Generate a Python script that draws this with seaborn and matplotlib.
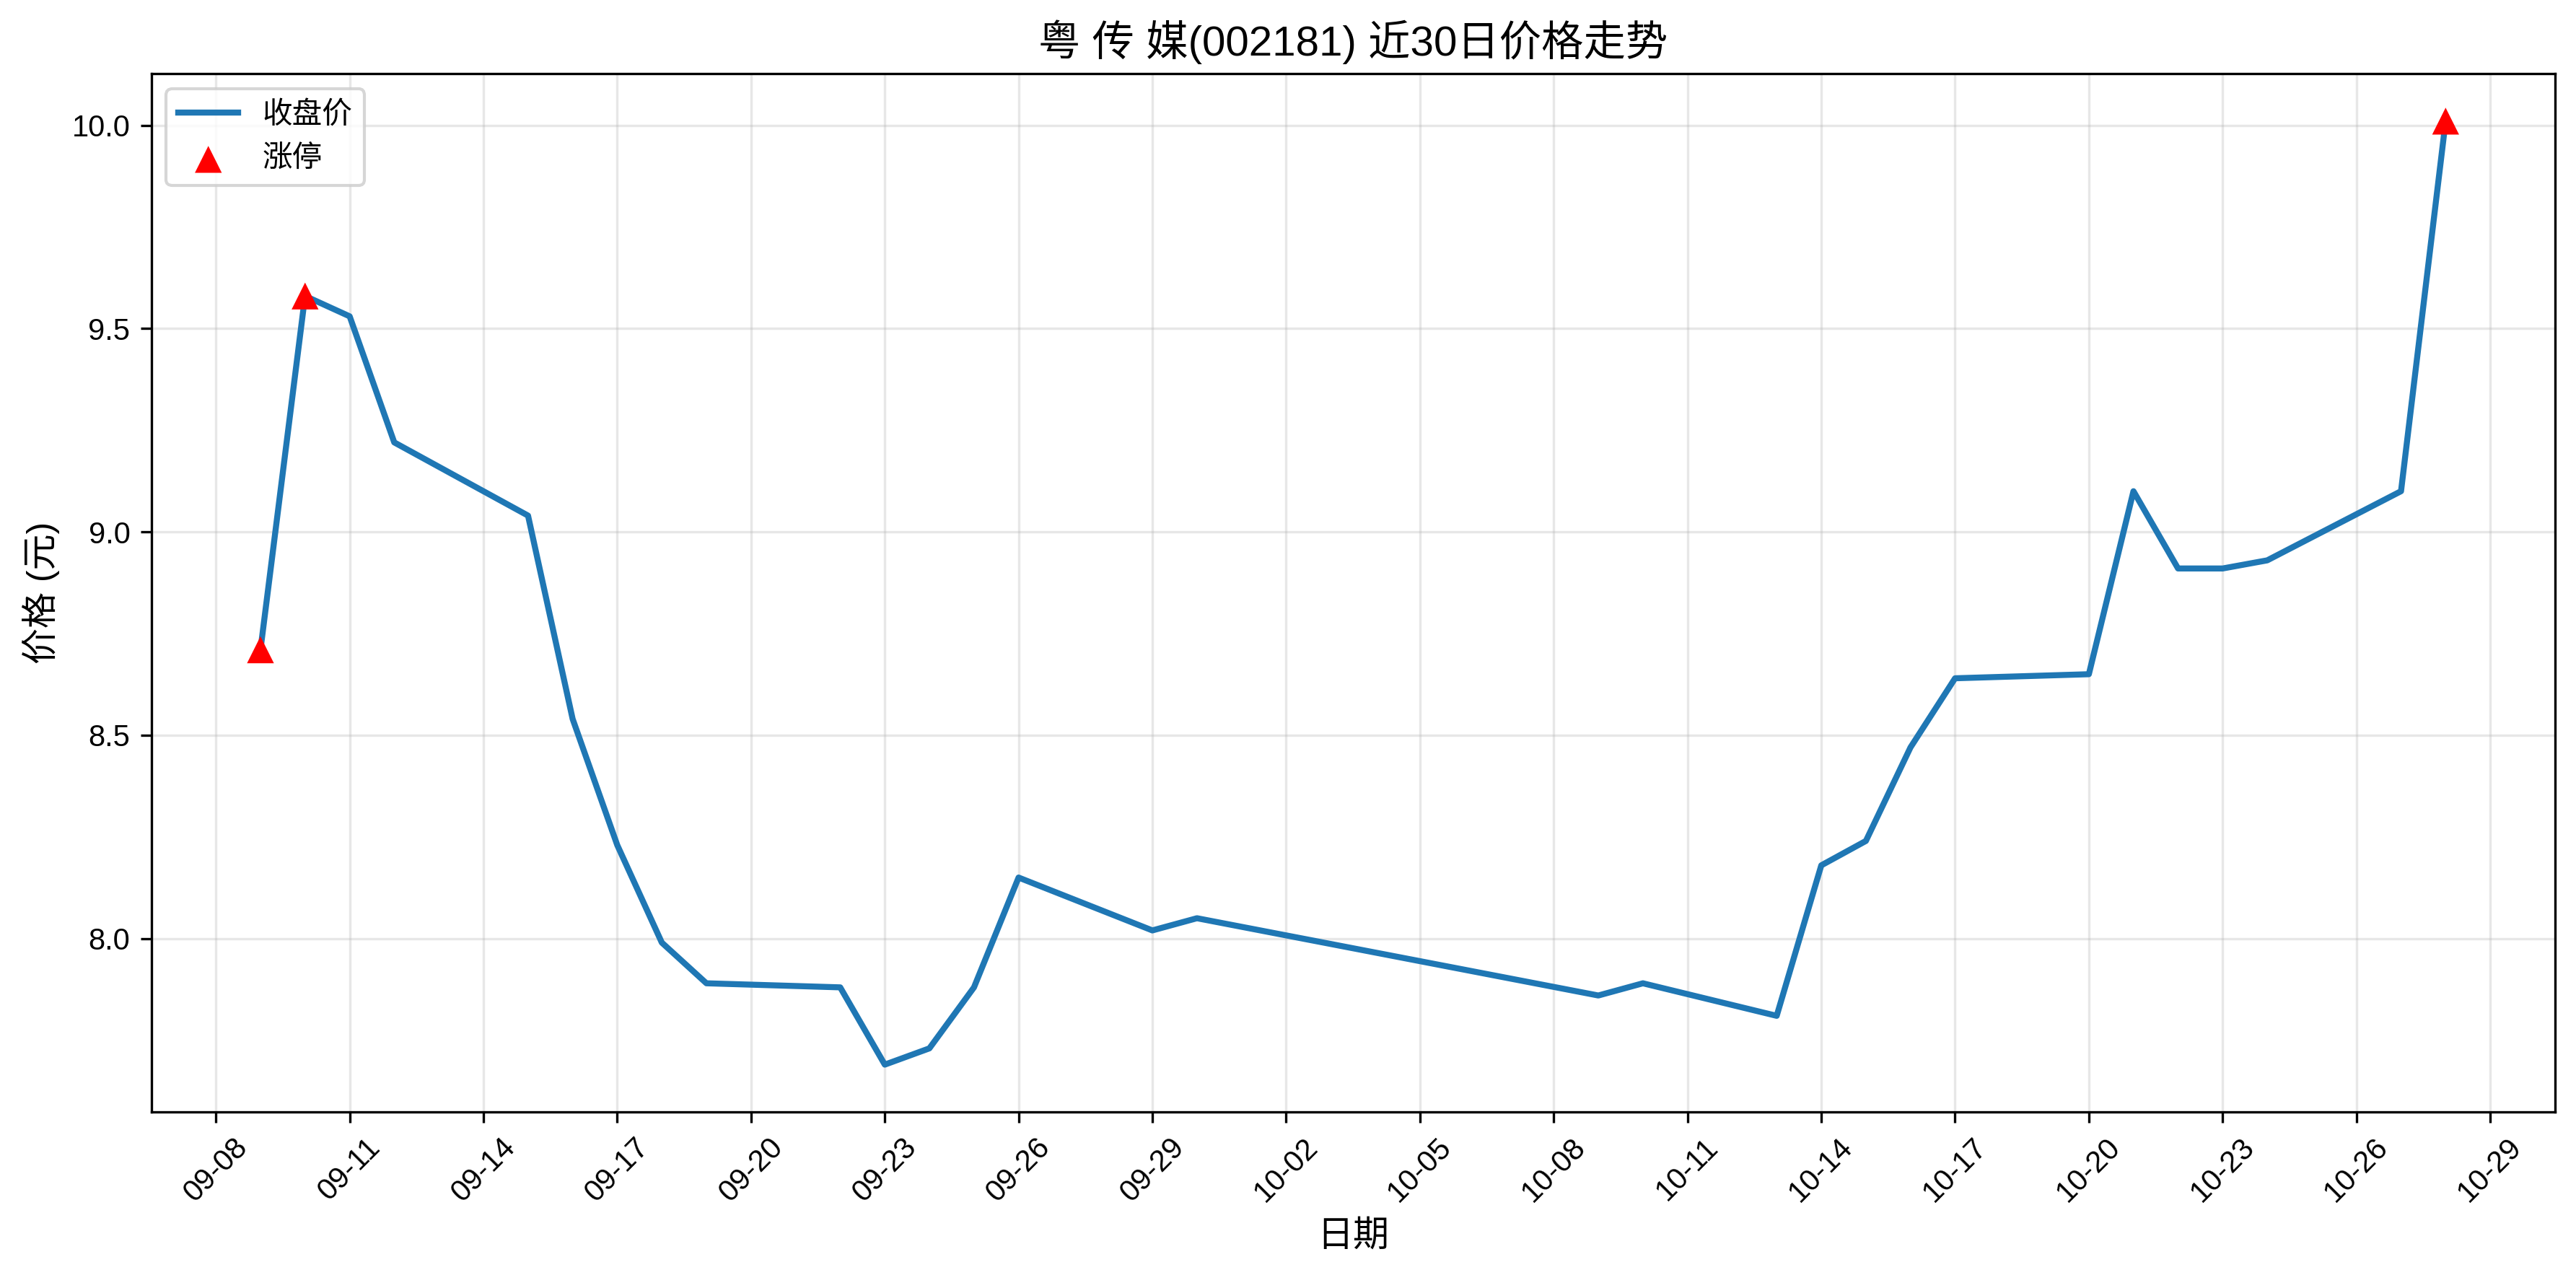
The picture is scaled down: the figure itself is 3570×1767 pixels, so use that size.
import pandas as pd
import matplotlib
matplotlib.use('Agg')
import matplotlib.pyplot as plt
import matplotlib.dates as mdates
import seaborn as sns

plt.rcParams['font.family'] = ['Liberation Sans', 'Noto Sans CJK SC', 'DejaVu Sans']
plt.rcParams['axes.unicode_minus'] = False

# 交易日和收盘价
dates = ['2025-09-09', '2025-09-10', '2025-09-11', '2025-09-12', '2025-09-15',
         '2025-09-16', '2025-09-17', '2025-09-18', '2025-09-19', '2025-09-22',
         '2025-09-23', '2025-09-24', '2025-09-25', '2025-09-26', '2025-09-29',
         '2025-09-30', '2025-10-09', '2025-10-10', '2025-10-13', '2025-10-14',
         '2025-10-15', '2025-10-16', '2025-10-17', '2025-10-20', '2025-10-21',
         '2025-10-22', '2025-10-23', '2025-10-24', '2025-10-27', '2025-10-28']
close = [8.71, 9.58, 9.53, 9.22, 9.04, 8.54, 8.23, 7.99, 7.89, 7.88,
         7.69, 7.73, 7.88, 8.15, 8.02, 8.05, 7.86, 7.89, 7.81, 8.18,
         8.24, 8.47, 8.64, 8.65, 9.10, 8.91, 8.91, 8.93, 9.10, 10.01]
# 涨停日
limit_up = ['2025-09-09', '2025-09-10', '2025-10-28']

df = pd.DataFrame({'date': pd.to_datetime(dates), 'close': close})
df_up = df[df['date'].isin(pd.to_datetime(limit_up))]

fig, ax = plt.subplots(figsize=(11.9, 5.89), dpi=300)
fig.subplots_adjust(left=0.0587, right=0.9918, top=0.942, bottom=0.128)

sns.lineplot(x='date', y='close', data=df, ax=ax, color='#1f77b4', linewidth=2, label='收盘价')
sns.scatterplot(x='date', y='close', data=df_up, ax=ax, color='red', marker='^',
                s=80, edgecolor='none', label='涨停', zorder=3)

ax.set_title('粤 传 媒(002181) 近30日价格走势', fontsize=14)
ax.set_xlabel('日期', fontsize=12)
ax.set_ylabel('价格 (元)', fontsize=12)
ax.set_xticks(pd.date_range('2025-09-08', '2025-10-29', freq='3D'))
ax.xaxis.set_major_formatter(mdates.DateFormatter('%m-%d'))
plt.setp(ax.get_xticklabels(), rotation=45)
ax.grid(True, alpha=0.3)
ax.legend(loc='upper left')

plt.savefig('out.png', dpi=300)
